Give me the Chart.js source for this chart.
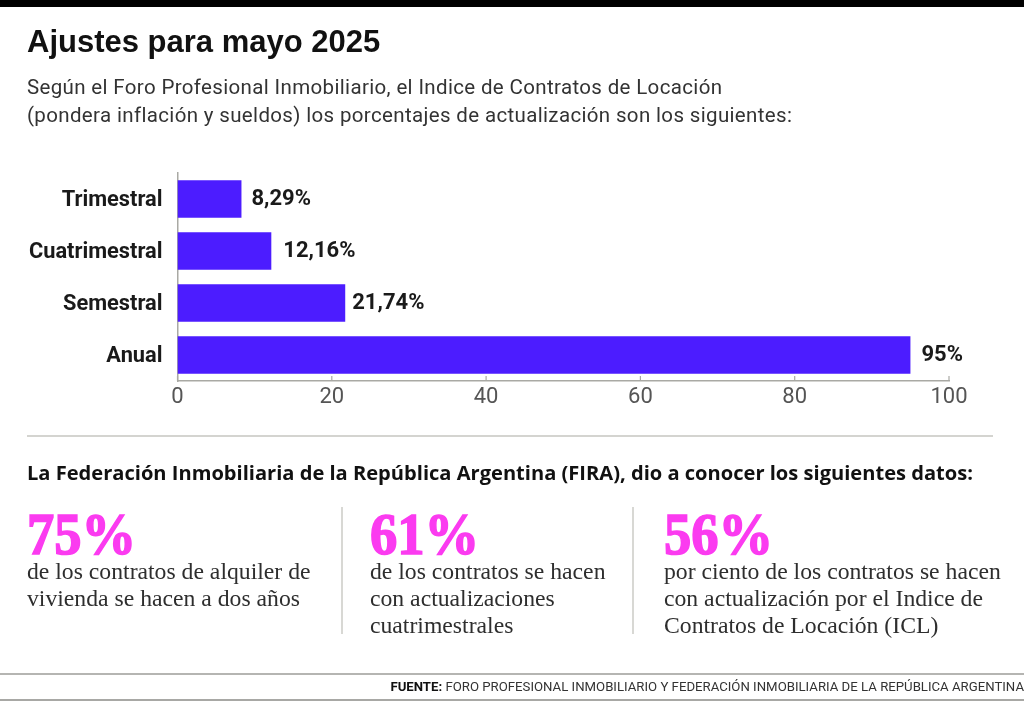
<!DOCTYPE html>
<html lang="es"><head><meta charset="utf-8">
<script src="https://cdn.jsdelivr.net/npm/chart.js@4"></script>
<style>
html,body{margin:0;padding:0;background:#fff;width:1024px;height:701px;overflow:hidden}
#wrap{position:relative;width:1024px;height:701px;overflow:hidden;background:#fff}
canvas{position:absolute;left:0;top:0}
.t{position:absolute;white-space:nowrap;color:#1a1a1a}
.b{position:absolute;background:#c4c4c0}
.big{font-family:"Liberation Serif",serif;font-weight:700;color:#fb3bf0;font-size:60px;line-height:60px;transform:scaleX(.91);transform-origin:left top;-webkit-text-stroke:1.6px #fb3bf0}
.ser{font-family:"Liberation Serif",serif;color:#2e2e2e;font-size:23.7px;line-height:27px}
</style></head><body>
<div id="wrap">
<canvas id="c" width="1024" height="701"></canvas>
<div class="b" style="left:0;top:0;width:1024px;height:7px;background:#000"></div>
<div class="t" style="left:27px;top:24px;font:700 31px 'Liberation Sans',sans-serif;color:#111">Ajustes para mayo 2025</div>
<div class="t" style="left:27px;top:73px;font:400 20.5px/28px Roboto,sans-serif;color:#333;letter-spacing:.35px">Según el Foro Profesional Inmobiliario, el Indice de Contratos de Locación<br>(pondera inflación y sueldos) los porcentajes de actualización son los siguientes:</div>
<div class="b" style="left:27px;top:435px;width:966px;height:2px;background:#d4d4d0"></div>
<div class="t" style="left:27px;top:459px;font:700 20.1px 'Open Sans',sans-serif;color:#111">La Federación Inmobiliaria de la República Argentina (FIRA), dio a conocer los siguientes datos:</div>
<div class="t big" style="left:27px;top:504px">75%</div>
<div class="t ser" style="left:27px;top:558px">de los contratos de alquiler de<br>vivienda se hacen a dos años</div>
<div class="b" style="left:341px;top:507px;width:2px;height:127px;background:#d8d8d4"></div>
<div class="t big" style="left:370px;top:504px">61%</div>
<div class="t ser" style="left:370px;top:558px">de los contratos se hacen<br>con actualizaciones<br>cuatrimestrales</div>
<div class="b" style="left:632px;top:507px;width:2px;height:127px;background:#d8d8d4"></div>
<div class="t big" style="left:664px;top:504px">56%</div>
<div class="t ser" style="left:664px;top:558px">por ciento de los contratos se hacen<br>con actualización por el Indice de<br>Contratos de Locación (ICL)</div>
<div class="b" style="left:0;top:673px;width:1024px;height:2px;background:#b5b5b2"></div>
<div class="b" style="left:0;top:699px;width:1024px;height:2px;background:#a8a8a5"></div>
<div class="t" style="right:0;top:679px;font:400 13.2px Roboto,sans-serif;color:#333"><b style="color:#111">FUENTE:</b> FORO PROFESIONAL INMOBILIARIO Y FEDERACIÓN INMOBILIARIA DE LA REPÚBLICA ARGENTINA</div>
</div>
<script>
const categories = ["Trimestral","Cuatrimestral","Semestral","Anual"];
const values = [8.29,12.16,21.74,95];
const valueLabels = ["8,29%","12,16%","21,74%","95%"];
const xTicks = [0,20,40,60,80,100];
const labelGaps = [10,12,7,11];
const axisColor = "#a9a9a4";

const decor = {
  id:"decor",
  afterDatasetsDraw(chart){
    const {ctx,scales:{x,y}}=chart;
    ctx.save();
    ctx.strokeStyle=axisColor;ctx.lineWidth=1.2;
    xTicks.forEach(v=>{const p=x.getPixelForValue(v);
      ctx.beginPath();ctx.moveTo(p,y.bottom);ctx.lineTo(p,y.bottom-5);ctx.stroke();});
    ctx.fillStyle="#1a1a1a";ctx.font="700 22px Roboto,sans-serif";
    ctx.textBaseline="middle";ctx.textAlign="left";
    const m=chart.getDatasetMeta(0);
    m.data.forEach((b,i)=>{ctx.fillText(valueLabels[i],b.x+labelGaps[i],b.y);});
    ctx.restore();
  }
};
new Chart(document.getElementById("c"),{
  type:"bar",
  data:{labels:categories,datasets:[{data:values,backgroundColor:"#4c1cff",barPercentage:.72,categoryPercentage:1}]},
  plugins:[decor],
  options:{
    indexAxis:"y",responsive:false,animation:false,
    layout:{padding:{top:173,right:75,bottom:0,left:0}},
    plugins:{legend:{display:false},tooltip:{enabled:false},title:{display:false}},
    scales:{
      x:{type:"linear",min:0,max:100,
        afterFit(s){s.height=320;},
        afterBuildTicks(s){s.ticks=xTicks.map(v=>({value:v}));},
        grid:{display:false,drawTicks:false},
        border:{display:true,color:axisColor,width:1.5},
        ticks:{color:"#555",font:{family:"Roboto,sans-serif",size:22},padding:3,maxRotation:0,autoSkip:false}},
      y:{type:"category",
        afterFit(s){s.width=177.5;},
        grid:{display:false,drawTicks:false},
        border:{display:true,color:axisColor,width:1.5},
        ticks:{color:"#1a1a1a",font:{family:"Roboto,sans-serif",size:21.8,weight:"700"},padding:15,labelOffset:1.5,autoSkip:false}}
    }
  }
});
</script>
</body></html>
